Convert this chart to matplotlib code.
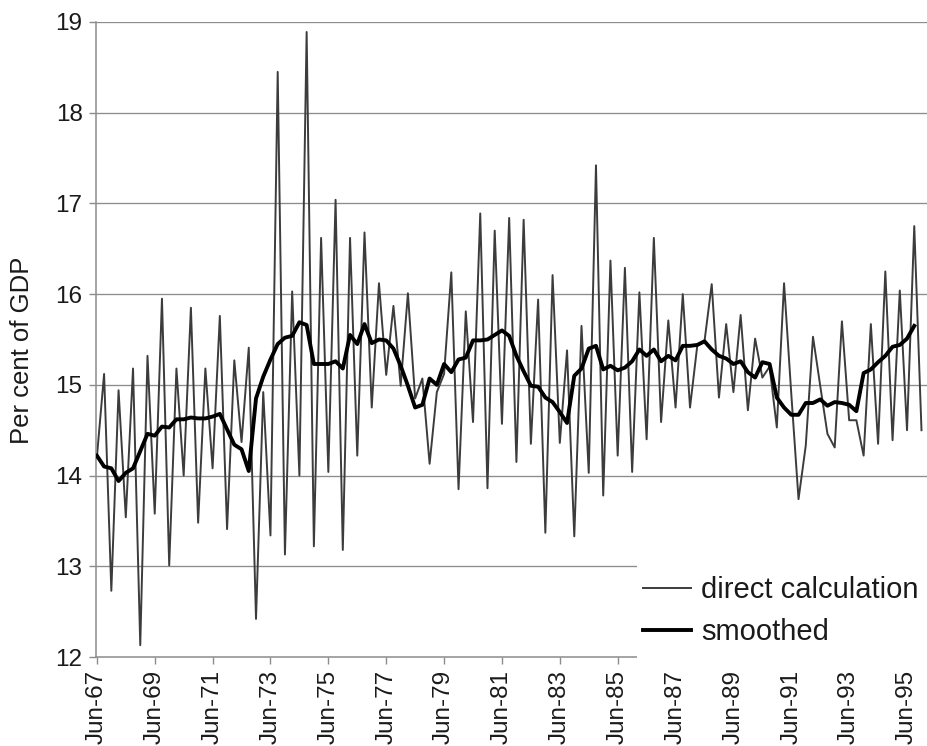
import numpy as np
import matplotlib
matplotlib.use("Agg")
import matplotlib.pyplot as plt
from matplotlib.patches import Rectangle

plt.rcParams['font.family'] = ['Liberation Sans', 'DejaVu Sans']

# Quarterly series, Jun-67 onwards
direct = [14.20, 15.12, 12.73, 14.94, 13.54, 15.18, 12.13, 15.32, 13.58, 15.95,
          13.01, 15.18, 14.00, 15.85, 13.48, 15.18, 14.08, 15.76, 13.41, 15.27,
          14.37, 15.41, 12.42, 14.92, 13.34, 18.45, 13.13, 16.03, 14.00, 18.89,
          13.22, 16.62, 14.04, 17.04, 13.18, 16.62, 14.22, 16.68, 14.75, 16.12,
          15.11, 15.87, 14.99, 16.01, 14.85, 15.07, 14.13, 14.92, 15.12, 16.24,
          13.85, 15.81, 14.59, 16.89, 13.86, 16.70, 14.57, 16.84, 14.15, 16.82,
          14.35, 15.94, 13.37, 16.21, 14.36, 15.38, 13.33, 15.65, 14.03, 17.42,
          13.78, 16.37, 14.22, 16.29, 14.04, 16.02, 14.40, 16.62, 14.59, 15.71,
          14.75, 16.00, 14.75, 15.43, 15.48, 16.11, 14.86, 15.67, 14.92, 15.77,
          14.72, 15.51, 15.08, 15.20, 14.53, 16.12, 14.90, 13.74, 14.33, 15.53,
          14.99, 14.46, 14.31, 15.70, 14.61, 14.61, 14.22, 15.67, 14.35, 16.25,
          14.39, 16.04, 14.50, 16.75, 14.50]

smoothed = [14.22, 14.10, 14.08, 13.94, 14.03, 14.08, 14.27, 14.46, 14.44, 14.54,
            14.53, 14.62, 14.62, 14.64, 14.63, 14.63, 14.65, 14.68, 14.51, 14.34,
            14.29, 14.05, 14.85, 15.09, 15.28, 15.45, 15.52, 15.54, 15.69, 15.66,
            15.23, 15.23, 15.23, 15.26, 15.18, 15.55, 15.45, 15.67, 15.46, 15.50,
            15.49, 15.40, 15.21, 14.99, 14.75, 14.78, 15.07, 15.00, 15.23, 15.14,
            15.28, 15.30, 15.49, 15.49, 15.50, 15.55, 15.60, 15.54, 15.32, 15.15,
            14.99, 14.98, 14.86, 14.81, 14.70, 14.58, 15.10, 15.18, 15.40, 15.43,
            15.17, 15.21, 15.16, 15.19, 15.26, 15.39, 15.32, 15.39, 15.26, 15.32,
            15.27, 15.43, 15.43, 15.44, 15.48, 15.39, 15.32, 15.29, 15.23, 15.26,
            15.14, 15.08, 15.25, 15.23, 14.86, 14.75, 14.67, 14.67, 14.80, 14.80,
            14.84, 14.77, 14.81, 14.80, 14.78, 14.71, 15.13, 15.17, 15.25, 15.32,
            15.42, 15.44, 15.51, 15.65]

tick_labels = ["Jun-67", "Jun-69", "Jun-71", "Jun-73", "Jun-75", "Jun-77", "Jun-79",
               "Jun-81", "Jun-83", "Jun-85", "Jun-87", "Jun-89", "Jun-91", "Jun-93",
               "Jun-95"]
y_ticks = [12, 13, 14, 15, 16, 17, 18, 19]

W, H = 928, 746
fig = plt.figure(figsize=(W / 100, H / 100), dpi=100)
ax = fig.add_axes([96.5 / W, 1 - 657 / H, 831.5 / W, 635 / H])

x_direct = np.arange(len(direct))
x_smooth = np.arange(len(smoothed))

grid_col = '#8c8c8c'
for yv in y_ticks[1:]:
    ax.axhline(yv, color=grid_col, lw=0.95, zorder=1)

l1, = ax.plot(x_direct, direct, color='#3c3c3c', lw=1.4, zorder=2,
              label='direct calculation')
l2, = ax.plot(x_smooth, smoothed, color='black', lw=2.8, zorder=3,
              solid_joinstyle='round', label='smoothed')

ax.set_xlim(-0.05, 114.9)
ax.set_ylim(12, 19)
ax.set_yticks(y_ticks)
ax.set_yticklabels([str(v) for v in y_ticks])
ax.set_xticks(np.arange(len(tick_labels)) * 8)
ax.set_xticklabels(tick_labels, rotation=90)

for s in ['top', 'right']:
    ax.spines[s].set_visible(False)
for s in ['left', 'bottom']:
    ax.spines[s].set_color(grid_col)
    ax.spines[s].set_linewidth(1.1)

ax.tick_params(axis='both', direction='out', color=grid_col, width=1.0,
               length=5, labelsize=17.5, labelcolor='#1a1a1a')
ax.tick_params(axis='x', pad=4)
ax.tick_params(axis='y', pad=5)

ax.set_ylabel('Per cent of GDP', fontsize=18.5, color='#1a1a1a')
ax.yaxis.set_label_coords(-0.075, 0.483)

# white legend area
rect = Rectangle((0.65, -0.012), 0.36, 0.172, transform=ax.transAxes,
                 facecolor='white', edgecolor='none', zorder=4, clip_on=False)
ax.add_patch(rect)

leg = ax.legend(handles=[l1, l2], loc='upper left',
                bbox_to_anchor=(0.657, 0.127), frameon=False, fontsize=21,
                handlelength=1.65, handletextpad=0.35, labelspacing=0.47,
                borderpad=0, borderaxespad=0)
leg.set_zorder(5)
for t in leg.get_texts():
    t.set_color('#1a1a1a')

fig.savefig('out.png', dpi=100, facecolor='white')
